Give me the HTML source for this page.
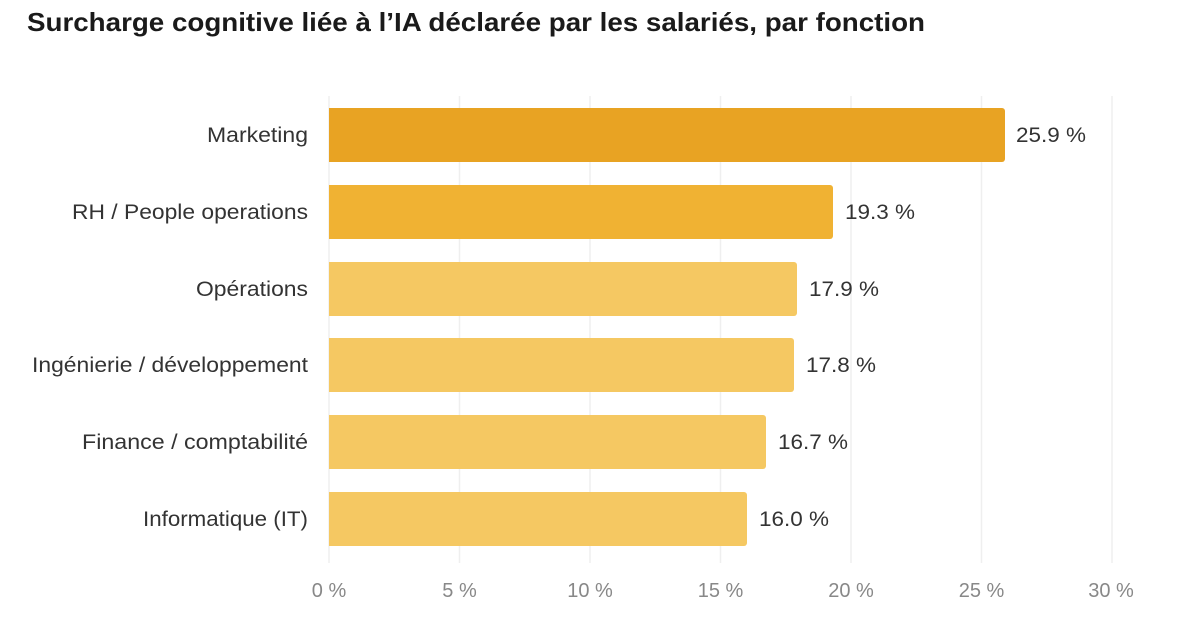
<!DOCTYPE html>
<html><head><meta charset="utf-8"><style>
body{margin:0;background:#fff;width:1199px;height:635px;overflow:hidden;font-family:"Liberation Sans",sans-serif;}
</style></head><body>
<svg width="1199" height="635" xmlns="http://www.w3.org/2000/svg" font-family="Liberation Sans, sans-serif">
<text x="27" y="31" font-size="26" font-weight="bold" fill="#1a1a1a" textLength="898" lengthAdjust="spacingAndGlyphs">Surcharge cognitive liée à l’IA déclarée par les salariés, par fonction</text>
<g stroke="#efefef" stroke-width="1.5">
<line x1="329" y1="96" x2="329" y2="563"/>
<line x1="459.5" y1="96" x2="459.5" y2="563"/>
<line x1="590" y1="96" x2="590" y2="563"/>
<line x1="720.5" y1="96" x2="720.5" y2="563"/>
<line x1="851" y1="96" x2="851" y2="563"/>
<line x1="981.5" y1="96" x2="981.5" y2="563"/>
<line x1="1112" y1="96" x2="1112" y2="563"/>
</g>
<g>
<path d="M329 108H1002a3 3 0 0 1 3 3V159a3 3 0 0 1-3 3H329Z" fill="#E8A323"/>
<path d="M329 185H830a3 3 0 0 1 3 3V236a3 3 0 0 1-3 3H329Z" fill="#F0B233"/>
<path d="M329 262H794a3 3 0 0 1 3 3V313a3 3 0 0 1-3 3H329Z" fill="#F5C862"/>
<path d="M329 338H791a3 3 0 0 1 3 3V389a3 3 0 0 1-3 3H329Z" fill="#F5C862"/>
<path d="M329 415H763a3 3 0 0 1 3 3V466a3 3 0 0 1-3 3H329Z" fill="#F5C862"/>
<path d="M329 492H744a3 3 0 0 1 3 3V543a3 3 0 0 1-3 3H329Z" fill="#F5C862"/>
</g>
<g font-size="21" fill="#333">
<text x="207" y="142" textLength="101" lengthAdjust="spacingAndGlyphs">Marketing</text>
<text x="72" y="219" textLength="236" lengthAdjust="spacingAndGlyphs">RH / People operations</text>
<text x="196" y="296" textLength="112" lengthAdjust="spacingAndGlyphs">Opérations</text>
<text x="32" y="372" textLength="276" lengthAdjust="spacingAndGlyphs">Ingénierie / développement</text>
<text x="82" y="449" textLength="226" lengthAdjust="spacingAndGlyphs">Finance / comptabilité</text>
<text x="143" y="526" textLength="165" lengthAdjust="spacingAndGlyphs">Informatique (IT)</text>
</g>
<g font-size="21" fill="#333">
<text x="1016" y="142" textLength="70" lengthAdjust="spacingAndGlyphs">25.9 %</text>
<text x="845" y="219" textLength="70" lengthAdjust="spacingAndGlyphs">19.3 %</text>
<text x="809" y="296" textLength="70" lengthAdjust="spacingAndGlyphs">17.9 %</text>
<text x="806" y="372" textLength="70" lengthAdjust="spacingAndGlyphs">17.8 %</text>
<text x="778" y="449" textLength="70" lengthAdjust="spacingAndGlyphs">16.7 %</text>
<text x="759" y="526" textLength="70" lengthAdjust="spacingAndGlyphs">16.0 %</text>
</g>
<g font-size="20" fill="#888" text-anchor="middle">
<text x="329" y="597">0 %</text>
<text x="459.5" y="597">5 %</text>
<text x="590" y="597">10 %</text>
<text x="720.5" y="597">15 %</text>
<text x="851" y="597">20 %</text>
<text x="981.5" y="597">25 %</text>
<text x="1111" y="597">30 %</text>
</g>
</svg>
</body></html>
